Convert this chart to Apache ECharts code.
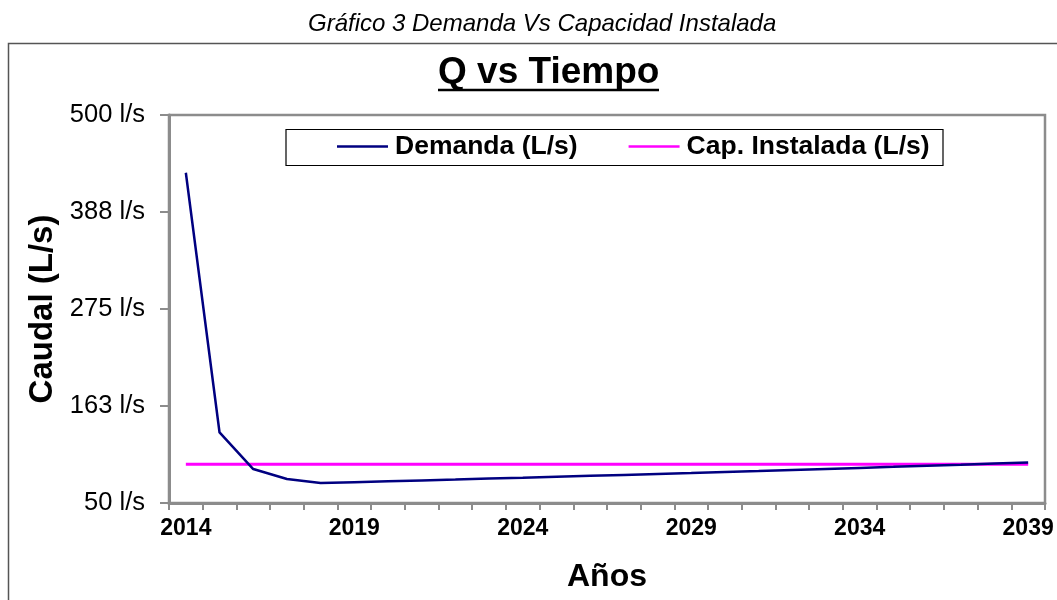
<!DOCTYPE html>
<html>
<head>
<meta charset="utf-8">
<script src="https://cdn.jsdelivr.net/npm/echarts@6/dist/echarts.min.js"></script>
<style>
html,body{margin:0;padding:0;background:#fff;}
#chart{width:1057px;height:600px;}
</style>
</head>
<body>
<div id="chart"></div>
<script>
var years = ['2014','2015','2016','2017','2018','2019','2020','2021','2022','2023','2024','2025','2026','2027','2028','2029','2030','2031','2032','2033','2034','2035','2036','2037','2038','2039'];
var demanda = [433, 131.8, 89.4, 77.8, 73.2, 74.2, 75.2, 76.2, 77.2, 78.3, 79.3, 80.4, 81.5, 82.6, 83.7, 84.8, 86.0, 87.1, 88.3, 89.5, 90.7, 91.9, 93.2, 94.4, 95.7, 97.0];
var capacidad = [95, 95, 95, 95, 95, 95, 95, 95, 95, 95, 95, 95, 95, 95, 95, 95, 95, 95, 95, 95, 95, 95, 95, 95, 95, 95];
var yTicks = [50, 162.5, 275, 387.5, 500];
var seriesNames = ['Demanda (L/s)', 'Cap. Instalada (L/s)'];

var FONT = '"Liberation Sans", Arial, sans-serif';
var chart = echarts.init(document.getElementById('chart'), null, {renderer: 'canvas'});
chart.setOption({
  animation: false,
  backgroundColor: '#ffffff',
  title: [
    {
      text: 'Gráfico 3 Demanda Vs Capacidad Instalada',
      left: 308, top: 12, padding: 0,
      textStyle: {fontFamily: FONT, fontStyle: 'italic', fontWeight: 'normal', fontSize: 24, color: '#000'}
    },
    {
      text: 'Q vs Tiempo',
      left: 438, top: 54, padding: 0,
      textStyle: {fontFamily: FONT, fontWeight: 'bold', fontSize: 37, color: '#000'}
    }
  ],
  graphic: [
    {type: 'rect', silent: true, z: -1, shape: {x: 8.5, y: 43.5, width: 1100, height: 600},
      style: {fill: 'none', stroke: '#555', lineWidth: 1.5}},
    {type: 'line', silent: true, shape: {x1: 438, y1: 90, x2: 659, y2: 90},
      style: {stroke: '#000', lineWidth: 2.5}},
    {type: 'rect', silent: true, shape: {x: 286, y: 129.5, width: 657, height: 36},
      style: {fill: '#fff', stroke: '#000', lineWidth: 1.2}, z: 5}
  ],
  legend: {
    data: seriesNames,
    left: 337, top: 133, padding: 0, z: 10,
    itemWidth: 51, itemHeight: 14, itemGap: 51,
    icon: 'path://M0,6 L51,6 L51,8.5 L0,8.5 Z',
    textStyle: {fontFamily: FONT, fontWeight: 'bold', fontSize: 26.5, color: '#000', padding: [0,0,0,2]}
  },
  grid: {
    left: 169, right: 12, top: 115, bottom: 97,
    show: true, borderColor: '#8c8c8c', borderWidth: 2.5, backgroundColor: '#fff'
  },
  xAxis: {
    type: 'category',
    data: years,
    boundaryGap: true,
    name: 'Años',
    nameLocation: 'middle',
    nameGap: 58,
    nameTextStyle: {fontFamily: FONT, fontWeight: 'bold', fontSize: 32, color: '#000'},
    axisLine: {show: true, lineStyle: {color: '#8c8c8c', width: 3}},
    axisTick: {show: true, interval: 0, length: 7, lineStyle: {color: '#8c8c8c', width: 2}},
    axisLabel: {interval: 4, margin: 14, fontFamily: FONT, fontWeight: 'bold', fontSize: 23, color: '#000'},
    splitLine: {show: false}
  },
  yAxis: {
    type: 'value',
    min: yTicks[0], max: yTicks[yTicks.length - 1], interval: yTicks[1] - yTicks[0],
    name: 'Caudal (L/s)',
    nameLocation: 'middle',
    nameRotate: 90,
    nameGap: 109,
    nameTextStyle: {fontFamily: FONT, fontWeight: 'bold', fontSize: 33, color: '#000'},
    axisLine: {show: true, lineStyle: {color: '#8c8c8c', width: 3}},
    axisTick: {show: true, length: 9, lineStyle: {color: '#8c8c8c', width: 2}},
    axisLabel: {margin: 24, fontFamily: FONT, fontSize: 25.5, color: '#000',
      formatter: function (v) { return Math.round(v) + ' l/s'; }},
    splitLine: {show: false}
  },
  series: [
    {name: seriesNames[0], type: 'line', data: demanda, symbol: 'none', z: 3,
      itemStyle: {color: '#000080'}, lineStyle: {color: '#000080', width: 2.5}},
    {name: seriesNames[1], type: 'line', data: capacidad, symbol: 'none', z: 2,
      itemStyle: {color: '#ff00ff'}, lineStyle: {color: '#ff00ff', width: 3}}
  ]
});
</script>
</body>
</html>
